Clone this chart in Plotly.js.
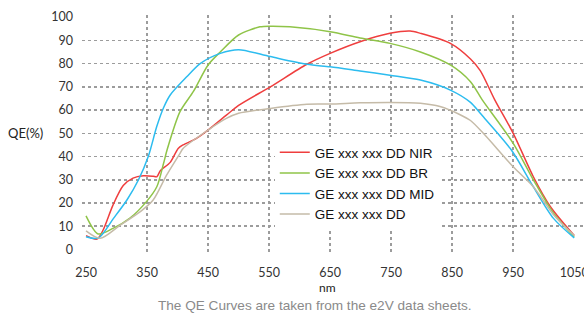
<!DOCTYPE html>
<html><head><meta charset="utf-8">
<script src="https://cdn.plot.ly/plotly-3.0.1.min.js"></script>
<style>html,body{margin:0;padding:0;background:#fff}#c{width:584px;height:315px}</style>
</head><body><div id="c"></div>
<script>
const nirX = [250,268,278,294,311,327,344,360,366,372,388,401,409,431,450,480,500,552,612,650,699,748,781,798,847,880,896,920,950,983,1011,1050];
const nirY = [6,4.5,8.4,19,27.5,30.7,31.7,31.5,31.3,34,37.5,43.5,45,47.8,51.4,57.8,62,70,79.7,84.4,89.4,93,94,93,88.7,82,77,64.3,50,31.3,18.4,6];
const brX = [250,270,295,322,349,366,377,383,404,426,450,470,500,535,552,584,650,699,748,798,847,880,899,950,983,1016,1050];
const brY = [14.5,6.7,9.2,13.5,20.6,27,37,43,59.3,68,79.4,85,92.3,95.8,96.1,95.8,93.7,91,88.7,85,79.4,72.2,64.5,45.7,30,15.6,5.5];
const midX = [250,270,295,317,336,352,366,377,388,415,437,470,500,552,612,650,699,748,798,847,880,896,947,983,1016,1050];
const midY = [5.5,4.9,13.4,21.3,30,40,53,61,66.5,74.3,80,84.4,86,83,79.7,78.6,76.8,75,72.9,68.6,63.3,58.6,42.8,27,13.4,5];
const ddX = [250,273,306,339,360,382,404,409,450,480,500,552,612,650,699,748,798,830,863,880,901,950,983,1016,1050];
const ddY = [8,4.8,10.5,16.3,21.3,32,41.4,43.5,51.4,56.4,58.6,60.7,62.5,62.6,63.1,63.3,62.9,61.5,58,55.5,50,35.6,27,15,6];
const names = ["GE xxx xxx DD NIR","GE xxx xxx DD BR","GE xxx xxx DD MID","GE xxx xxx DD"];
const xTicks = [250,350,450,550,650,750,850,950,1050];
const xGrid = [350,450,550,650,750,850,950];
const yTicks = [0,10,20,30,40,50,60,70,80,90,100];
const yGrid = [10,20,30,40,50,60,70,80,90];
const caption = "The QE Curves are taken from the e2V data sheets.";

const colors = ["#ef3e3e","#8fc448","#2cbcef","#c5bba8"];
const series = [[nirX,nirY],[brX,brY],[midX,midY],[ddX,ddY]];
const traces = series.map((s,i)=>({
  x:s[0], y:s[1], name:names[i], type:'scatter', mode:'lines',
  line:{color:colors[i], width:1.5, shape:'spline', smoothing:0.8},
  xaxis:'x', yaxis:'y'
}));
traces.push({x:[300],y:[50],xaxis:'x2',yaxis:'y2',mode:'markers',marker:{opacity:0},showlegend:false,hoverinfo:'skip'});

const tickFont = {family:'Lato, "Open Sans", sans-serif', size:12.5, color:'#333'};
const xr = [243.4,1066], yr = [-1.5,100.9];
const layout = {
  width:584, height:315,
  margin:{l:82, r:0, t:15, b:62},
  paper_bgcolor:'#fff', plot_bgcolor:'#fff',
  showlegend:true,
  legend:{x:0.384, y:0.487, xanchor:'left', yanchor:'top', bgcolor:'#ffffff',
    font:{family:'"Liberation Sans", Arial, sans-serif', size:13.5, color:'#111'}, tracegroupgap:0},
  xaxis:{range:xr, tickvals:xTicks, showgrid:false, zeroline:false, showline:false, ticks:'',
    tickfont:tickFont, ticklabelstandoff:10, ticklabeloverflow:'allow', fixedrange:true},
  yaxis:{range:yr, tickvals:yTicks, showgrid:false, zeroline:false, showline:false, ticks:'',
    tickfont:tickFont, ticklabelstandoff:8, fixedrange:true},
  xaxis2:{range:xr, overlaying:'x', tickvals:xGrid, showticklabels:false, showgrid:true,
    gridcolor:'#9c9c9c', gridwidth:1.6, griddash:'dot', zeroline:false, ticks:''},
  yaxis2:{range:yr, overlaying:'y', tickvals:yGrid, showticklabels:false, showgrid:true,
    gridcolor:'#9c9c9c', gridwidth:1.6, griddash:'dot', zeroline:false, ticks:''},
  annotations:[
    {text:'QE(%)', xref:'paper', yref:'paper', x:(25-82)/502, y:(253-133)/238, xanchor:'center', yanchor:'middle',
     showarrow:false, font:{family:'Lato, "Open Sans", sans-serif', size:13, color:'#222'}},
    {text:'nm', xref:'paper', yref:'paper', x:(327-82)/502, y:(253-287)/238, xanchor:'center', yanchor:'middle',
     showarrow:false, font:{family:'Lato, "Open Sans", sans-serif', size:12, color:'#222'}},
    {text:caption, xref:'paper', yref:'paper', x:(315-82)/502, y:(253-305)/238, xanchor:'center', yanchor:'middle',
     showarrow:false, font:{family:'"Liberation Sans", Arial, sans-serif', size:13.6, color:'#8a8a8a'}}
  ]
};
Plotly.newPlot('c', traces, layout, {staticPlot:true, displayModeBar:false});
</script></body></html>
